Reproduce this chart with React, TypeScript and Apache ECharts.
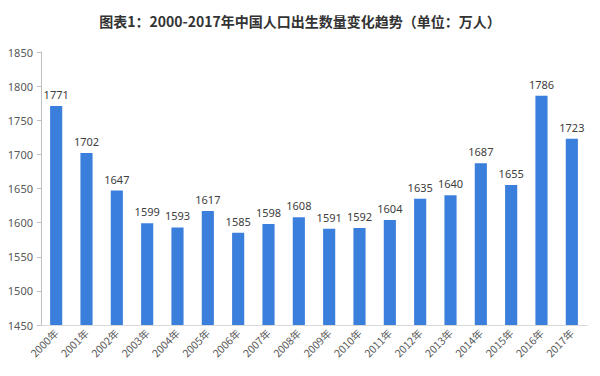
import React, { useEffect, useRef } from "react";
import * as echarts from "echarts";

const years = ["2000年","2001年","2002年","2003年","2004年","2005年","2006年","2007年","2008年","2009年","2010年","2011年","2012年","2013年","2014年","2015年","2016年","2017年"];
const births = [1771,1702,1647,1599,1593,1617,1585,1598,1608,1591,1592,1604,1635,1640,1687,1655,1786,1723];
const yMin = 1450;
const yMax = 1850;
const yStep = 50;

export default function App() {
  const ref = useRef<HTMLDivElement>(null);
  useEffect(() => {
    const chart = echarts.init(ref.current!, null, { renderer: "svg" });
    chart.setOption({
      animation: false,
      backgroundColor: "#ffffff",
      title: {
        text: "图表1：2000-2017年中国人口出生数量变化趋势（单位：万人）",
        left: "center",
        top: 9,
        textStyle: { fontFamily: "Noto Sans CJK SC", fontSize: 14, fontWeight: "bold", color: "#333333" },
      },
      grid: { left: 41, right: 13, top: 52, bottom: 51, containLabel: false },
      xAxis: {
        type: "category",
        data: years,
        axisLine: { lineStyle: { color: "#d9d9d9" } },
        axisTick: { show: false },
        axisLabel: { rotate: 45, color: "#595959", fontSize: 10.5, fontFamily: "Noto Sans CJK SC", margin: 6, interval: 0 },
      },
      yAxis: {
        type: "value",
        min: yMin,
        max: yMax,
        interval: yStep,
        axisLine: { show: true, lineStyle: { color: "#bfbfbf" } },
        axisTick: { show: true, length: 4, lineStyle: { color: "#bfbfbf" } },
        splitLine: { show: false },
        axisLabel: { color: "#595959", fontSize: 11, fontFamily: "Noto Sans", margin: 8, formatter: (v: number) => String(v) },
      },
      series: [
        {
          type: "bar",
          data: births,
          barWidth: "40%",
          itemStyle: { color: "#3b7fdc" },
          label: { show: true, position: "top", distance: 6, color: "#404040", fontSize: 11, fontFamily: "Noto Sans" },
        },
      ],
    });
    return () => chart.dispose();
  }, []);
  return <div ref={ref} style={{ position: "fixed", left: 0, top: 0, width: 600, height: 376 }} />;
}
